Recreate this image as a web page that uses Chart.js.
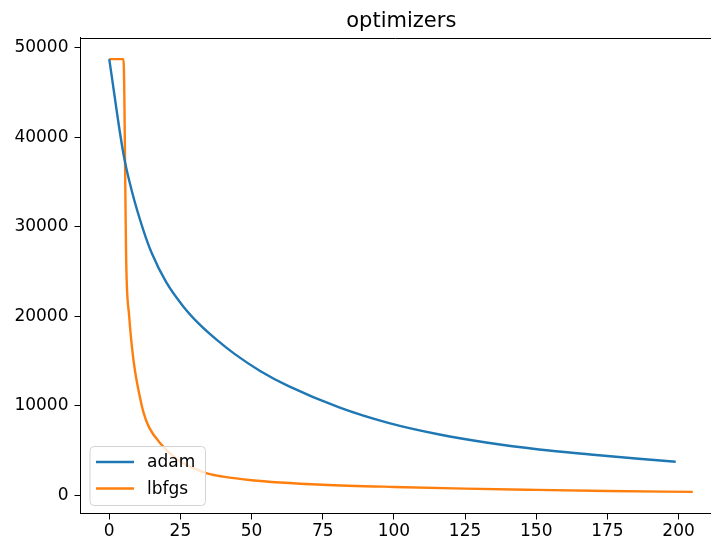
<!DOCTYPE html>
<html>
<head>
<meta charset="utf-8">
<script src="https://cdn.jsdelivr.net/npm/chart.js@4"></script>
<style>
  html, body { margin: 0; padding: 0; background: #fff; overflow: hidden; }
  #wrap { width: 711px; height: 544px; }
</style>
</head>
<body>
<div id="wrap"><canvas id="chart" width="711" height="544"></canvas></div>
<script>
// values
const adamX = [0, 5, 8, 12, 15, 20, 26, 32, 38, 44, 53, 63, 81, 98, 116, 133, 151, 169, 186, 199];
const adamY = [48700, 38100, 33900, 29600, 27000, 23800, 21100, 19000, 17300, 15800, 13900, 12200, 9800, 8100, 6800, 5880, 5130, 4570, 4090, 3760];

const lbfgsX = [0, 5, 6, 7, 8, 9, 10, 12, 14, 18, 22, 26, 30, 35, 40, 50, 60, 75, 100, 125, 150, 175, 205];
const lbfgsY = [48700, 48700, 25500, 20000, 16500, 14000, 12200, 9300, 7600, 5800, 4500, 3600, 3000, 2400, 2100, 1700, 1450, 1200, 950, 760, 620, 500, 400];

const xTicks = [0, 25, 50, 75, 100, 125, 150, 175, 200];
const yTicks = [0, 10000, 20000, 30000, 40000, 50000];

const titleText = 'optimizers';
const FONT = "'DejaVu Sans', sans-serif";

// the axes run past the right edge of the picture, as in the reference
const X_MIN = -10.1, X_VISIBLE_MAX = 211.4, X_FULL_MAX = 215.3;

function toPoints(xs, ys) {
    return xs.map((x, i) => ({ x: x, y: ys[i] }));
}

// top spine + title centred over the full axes width
const frame = {
    id: 'frame',
    afterDraw(chart) {
        const a = chart.chartArea;
        const ctx = chart.ctx;
        const xs = chart.scales.x;
        ctx.save();
        ctx.strokeStyle = '#000';
        ctx.lineWidth = 1;
        ctx.beginPath();
        ctx.moveTo(a.left, Math.round(a.top) + 0.5);
        ctx.lineTo(chart.width, Math.round(a.top) + 0.5);
        ctx.stroke();

        const cx = (xs.getPixelForValue(X_MIN) + xs.getPixelForValue(X_FULL_MAX)) / 2;
        ctx.font = '21px ' + FONT;
        ctx.fillStyle = '#000';
        ctx.textAlign = 'center';
        ctx.textBaseline = 'middle';
        ctx.fillText(titleText, cx, 22);
        ctx.restore();
    }
};

// matplotlib style legend, lower left inside the axes
const boxLegend = {
    id: 'boxLegend',
    afterDatasetsDraw(chart) {
        const a = chart.chartArea;
        const ctx = chart.ctx;
        const sets = chart.data.datasets;
        const x = a.left + 9.5, w = 115.5, h = 59;
        const y = a.bottom - 8 - h;
        ctx.save();
        ctx.beginPath();
        ctx.roundRect(x, y, w, h, 4);
        ctx.fillStyle = 'rgba(255,255,255,0.8)';
        ctx.fill();
        ctx.strokeStyle = '#d4d4d4';
        ctx.lineWidth = 1;
        ctx.stroke();
        ctx.font = '17px ' + FONT;
        ctx.textBaseline = 'middle';
        sets.forEach((ds, i) => {
            const ly = y + 15.5 + i * 26.5;
            ctx.strokeStyle = ds.borderColor;
            ctx.lineWidth = 2.4;
            ctx.beginPath();
            ctx.moveTo(x + 6, ly);
            ctx.lineTo(x + 44, ly);
            ctx.stroke();
            ctx.fillStyle = '#000';
            ctx.fillText(ds.label, x + 57, ly + 1);
        });
        ctx.restore();
    }
};

new Chart(document.getElementById('chart'), {
    type: 'line',
    data: {
        datasets: [{
            label: 'adam',
            data: toPoints(adamX, adamY),
            borderColor: '#1f77b4',
            borderWidth: 2.4,
            pointRadius: 0,
            cubicInterpolationMode: 'monotone',
            fill: false
        }, {
            label: 'lbfgs',
            data: toPoints(lbfgsX, lbfgsY),
            borderColor: '#ff7f0e',
            borderWidth: 2.4,
            pointRadius: 0,
            cubicInterpolationMode: 'monotone',
            fill: false
        }]
    },
    options: {
        responsive: false,
        animation: false,
        layout: { padding: { left: 0, right: 0, top: 37.5, bottom: 0 } },
        plugins: {
            legend: { display: false },
            tooltip: { enabled: false },
            title: { display: false }
        },
        scales: {
            x: {
                type: 'linear',
                min: X_MIN,
                max: X_VISIBLE_MAX,
                afterBuildTicks: s => { s.ticks = xTicks.map(v => ({ value: v })); },
                afterFit: s => { s.height = 30.5; },
                grid: { display: true, drawOnChartArea: false, drawTicks: true, tickLength: 6, color: '#000', lineWidth: 1 },
                border: { display: true, color: '#000', width: 1 },
                ticks: { color: '#000', font: { family: FONT, size: 17 }, padding: 2, maxRotation: 0, callback: v => String(v) }
            },
            y: {
                type: 'linear',
                min: -2015,
                max: 51115,
                afterBuildTicks: s => { s.ticks = yTicks.map(v => ({ value: v })); },
                afterFit: s => { s.width = 80.5; },
                grid: { display: true, drawOnChartArea: false, drawTicks: true, tickLength: 6, color: '#000', lineWidth: 1 },
                border: { display: true, color: '#000', width: 1 },
                ticks: { color: '#000', font: { family: FONT, size: 17 }, padding: 6, callback: v => String(v) }
            }
        }
    },
    plugins: [frame, boxLegend]
});
</script>
</body>
</html>
